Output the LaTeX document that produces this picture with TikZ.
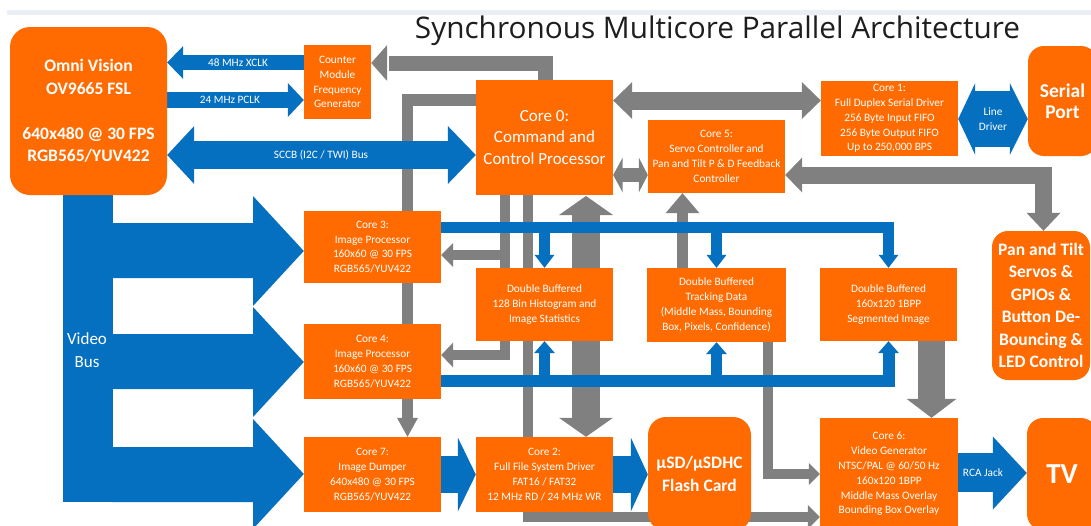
\documentclass[tikz,border=0pt]{standalone}
\usepackage{fontspec}
\usepackage{graphicx}
\setmainfont{Carlito}
\newfontfamily\titlefont{Open Sans}
\usetikzlibrary{calc,backgrounds}
\definecolor{org}{HTML}{FF6B00}
\definecolor{blu}{HTML}{0570C0}
\definecolor{gry}{HTML}{808080}
\definecolor{band}{HTML}{EAEFF5}
\definecolor{ttl}{HTML}{1E1E1E}
% arrow heads: tip coordinate, length, half width, colour
\newcommand\tL[4]{\fill[#4] (#1) -- ++(#2,-#3) -- ++(0,2*#3) -- cycle;}
\newcommand\tR[4]{\fill[#4] (#1) -- ++(-#2,-#3) -- ++(0,2*#3) -- cycle;}
\newcommand\tU[4]{\fill[#4] (#1) -- ++(-#3,#2) -- ++(2*#3,0) -- cycle;}
\newcommand\tD[4]{\fill[#4] (#1) -- ++(-#3,-#2) -- ++(2*#3,0) -- cycle;}
\begin{document}
\begin{tikzpicture}[x=1pt,y=-1pt,
  box/.style={fill=org,text=white,inner sep=0pt,align=center,font=\fontsize{11.3}{14.8}\selectfont},
  rbox/.style={box,rounded corners=16pt},
  big/.style={font=\bfseries\fontsize{17.5}{22.5}\selectfont},
  lbl/.style={text=white,inner sep=0pt,align=center,font=\fontsize{11.3}{14.8}\selectfont},
  gl/.style={draw=gry,line width=#1},
  bl/.style={draw=blu,line width=#1}]
\useasboundingbox (0,0) rectangle (1091,525);
\clip (0,0) rectangle (1091,525);

% ---------- nodes ----------
\node[anchor=base,text=ttl,inner sep=0pt] (title) at (717.5,38)
  {\resizebox{605pt}{!}{\titlefont Synchronous Multicore Parallel Architecture}};
\node[rbox,big,rounded corners=20pt,minimum width=157pt,minimum height=168pt] (omni) at (88.5,111)
  {Omni Vision\\OV9665 FSL\\[22.5pt]640x480 @ 30 FPS\\RGB565/YUV422};
\node[box,minimum width=67pt,minimum height=74pt] (cnt) at (337.5,82)
  {Counter\\Module\\Frequency\\Generator};
\node[box,font=\fontsize{17}{21.5}\selectfont,minimum width=137pt,minimum height=115pt] (c0) at (544.5,137.5)
  {Core 0:\\Command and\\Control Processor};
\node[box,minimum width=137pt,minimum height=73pt] (c5) at (716.5,156.5)
  {Core 5:\\Servo Controller and\\Pan and Tilt P \& D Feedback\\Controller};
\node[box,minimum width=137pt,minimum height=75pt] (c1) at (889.5,118.5)
  {Core 1:\\Full Duplex Serial Driver\\256 Byte Input FIFO\\256 Byte Output FIFO\\Up to 250,000 BPS};
\node[rbox,font=\bfseries\fontsize{19.5}{21.5}\selectfont,minimum width=69pt,minimum height=110pt] (serial) at (1062.5,101)
  {Serial\\Port};
\node[box,minimum width=137pt,minimum height=72pt] (c3) at (372.5,247)
  {Core 3:\\Image Processor\\160x60 @ 30 FPS\\RGB565/YUV422};
\node[box,minimum width=137pt,minimum height=75pt] (c4) at (372.5,361.5)
  {Core 4:\\Image Processor\\160x60 @ 30 FPS\\RGB565/YUV422};
\node[box,minimum width=137pt,minimum height=75pt] (c7) at (372.5,474.5)
  {Core 7:\\Image Dumper\\640x480 @ 30 FPS\\RGB565/YUV422};
\node[box,minimum width=137pt,minimum height=75pt] (c2) at (544.5,474.5)
  {Core 2:\\Full File System Driver\\FAT16 / FAT32\\12 MHz RD / 24 MHz WR};
\node[box,minimum width=137pt,minimum height=73pt] (hist) at (544.5,304.5)
  {Double Buffered\\128 Bin Histogram and\\Image Statistics};
\node[box,minimum width=139pt,minimum height=74pt] (trk) at (716.5,305)
  {Double Buffered\\Tracking Data\\(Middle Mass, Bounding\\Box, Pixels, Confidence)};
\node[box,minimum width=137pt,minimum height=73pt] (seg) at (888.5,304.5)
  {Double Buffered\\160x120 1BPP\\Segmented Image};
\node[rbox,big,minimum width=98pt,minimum height=149pt] (pan) at (1041,305.5)
  {Pan and Tilt\\Servos \&\\GPIOs \&\\Button De-\\Bouncing \&\\LED Control};
\node[rbox,big,rounded corners=18pt,minimum width=103pt,minimum height=114pt] (sd) at (699.5,474)
  {µSD/µSDHC\\Flash Card};
\node[box,minimum width=138pt,minimum height=112pt] (c6) at (889,474)
  {Core 6:\\Video Generator\\NTSC/PAL @ 60/50 Hz\\160x120 1BPP\\Middle Mass Overlay\\Bounding Box Overlay};
\node[rbox,font=\bfseries\fontsize{29}{30}\selectfont,minimum width=70pt,minimum height=112pt] (tv) at (1062,474) {TV};

% ---------- connectors (behind the boxes) ----------
\begin{pgfonlayer}{background}
\fill[white] (0,0) rectangle (1091,525);
\fill[band] (7,10) rectangle (1091,15);

% grey: Core 0 -> counter module
\draw[gl=15pt] (c0.north -| 545,0) -- (545,63) -- (389,63);
\tL{cnt.east |- 0,63}{16}{18}{gry}
% grey: Core 0 -> Core 7
\draw[gl=11.5pt] (c0.west |- 0,100) -- (407.5,100) -- (407.5,418);
\tD{c7.north -| 407.5,0}{19}{10.5}{gry}
% grey: Core 0 -> Core 3 / Core 4
\draw[gl=10pt] (c0.south -| 505,0) -- (505,355) -- (452,355);
\draw[gl=10pt] (505,255) -- (452,255);
\tL{c3.east |- 0,255}{12}{12}{gry}
\tL{c4.east |- 0,355}{12}{12.5}{gry}
% grey: Core 0 -> Core 6
\draw[gl=10pt] (c0.south -| 527.5,0) -- (527.5,517) -- (809,517);
\tR{c6.west |- 0,517}{12}{12}{gry}
% grey: Core 0 <-> Core 2
\fill[gry] (572,214) rectangle (600,418);
\tU{586,196}{19}{27}{gry}
\tD{c2.north -| 586,0}{19}{27}{gry}
% grey: Core 0 <-> Core 1
\fill[gry] (632,91.5) rectangle (803,109.5);
\tL{c0.east |- 0,100.5}{19}{18.5}{gry}
\tR{c1.west |- 0,100.5}{19}{18.5}{gry}
% grey: Core 0 <-> Core 5
\fill[gry] (622,168) rectangle (640,182);
\tL{c0.east |- 0,175}{9.5}{17.5}{gry}
\tR{c5.west |- 0,175}{9}{17.5}{gry}
% grey: Core 5 <-> Pan and Tilt
\draw[gl=17pt] (802,175) -- (1043.5,175) -- (1043.5,213);
\tL{c5.east |- 0,175}{17}{17.5}{gry}
\tD{pan.north -| 1043.5,0}{18}{17}{gry}
% grey: tracking -> Core 5
\draw[gl=11pt] (trk.north -| 682.5,0) -- (682.5,213);
\tU{c5.south -| 682.5,0}{20}{17}{gry}
% grey: tracking -> Core 6
\draw[gl=10.5pt] (trk.south -| 768,0) -- (768,474) -- (810,474);
\tR{c6.west |- 0,474}{11}{11}{gry}
% grey: segmented image -> Core 6
\fill[gry] (seg.south -| 918,0) rectangle (945,400);
\tD{c6.north -| 931.5,0}{19}{25}{gry}

% blue: Core 3 -> buffers
\draw[bl=11pt] (c3.east |- 0,227.5) -- (888.5,227.5) -- (888.5,256);
\draw[bl=11pt] (hist.north |- 0,227.5) -- (hist.north |- 0,256);
\draw[bl=11pt] (trk.north |- 0,227.5) -- (trk.north |- 0,256);
\tD{hist.north}{13}{10}{blu}
\tD{trk.north}{13}{10}{blu}
\tD{seg.north}{13}{10}{blu}
% blue: Core 4 -> buffers
\draw[bl=12pt] (c4.east |- 0,381) -- (888.5,381) -- (888.5,353);
\draw[bl=11pt] (hist.south |- 0,381) -- (hist.south |- 0,353);
\draw[bl=11pt] (trk.south |- 0,381) -- (trk.south |- 0,354);
\tU{hist.south}{12}{10.5}{blu}
\tU{trk.south}{12}{10.5}{blu}
\tU{seg.south}{12}{10.5}{blu}

% blue: XCLK, PCLK, SCCB
\fill[blu] (182,55) rectangle (cnt.west |- 0,70);
\tL{omni.east |- 0,62.5}{16}{16.5}{blu}
\fill[blu] (omni.east |- 0,92) rectangle (288,108);
\tR{cnt.west |- 0,100}{16}{17}{blu}
\fill[blu] (193,141) rectangle (449,169);
\tL{omni.east |- 0,155}{27}{29}{blu}
\tR{c0.west |- 0,155}{28}{29}{blu}
% blue: video bus
\fill[blu] (omni.south -| 63,0) rectangle (113,502);
\fill[blu] (112,223) -- (253,223) -- (253,196) -- (c3.west |- 0,251) -- (253,306) -- (253,278) -- (112,278) -- cycle;
\fill[blu] (112,334) -- (253,334) -- (253,307) -- (c4.west |- 0,362) -- (253,417) -- (253,389) -- (112,389) -- cycle;
\fill[blu] (112,447) -- (253,447) -- (253,419) -- (c7.west |- 0,474) -- (253,529) -- (253,502) -- (112,502) -- cycle;
% blue: Core 7 -> Core 2 -> card
\fill[blu] (c7.east |- 0,456) rectangle (459,493);
\tR{c2.west |- 0,474.5}{18}{37}{blu}
\fill[blu] (c2.east |- 0,456) rectangle (632,493);
\tR{sd.west |- 0,474.5}{17}{37}{blu}
% blue: RCA jack
\fill[blu] (c6.east |- 0,453) rectangle (994,492);
\tR{tv.west |- 0,473}{34}{36.5}{blu}
% blue: line driver
\fill[blu] (974,91) rectangle (1011,147);
\tL{c1.east |- 0,119}{17}{36}{blu}
\tR{serial.west |- 0,119}{18}{36}{blu}
\end{pgfonlayer}

% ---------- labels ----------
\node[lbl] (lxclk) at (238,63) {48 MHz XCLK};
\node[lbl] (lpclk) at (230,100) {24 MHz PCLK};
\node[lbl] (lsccb) at (321,155) {SCCB (I2C / TWI) Bus};
\node[lbl] (lline) at (993,119) {Line\\Driver};
\node[lbl] (lrca) at (983,473) {RCA Jack};
\node[lbl,font=\fontsize{17}{23}\selectfont] (lvid) at (87,350) {Video\\Bus};
\end{tikzpicture}
\end{document}
